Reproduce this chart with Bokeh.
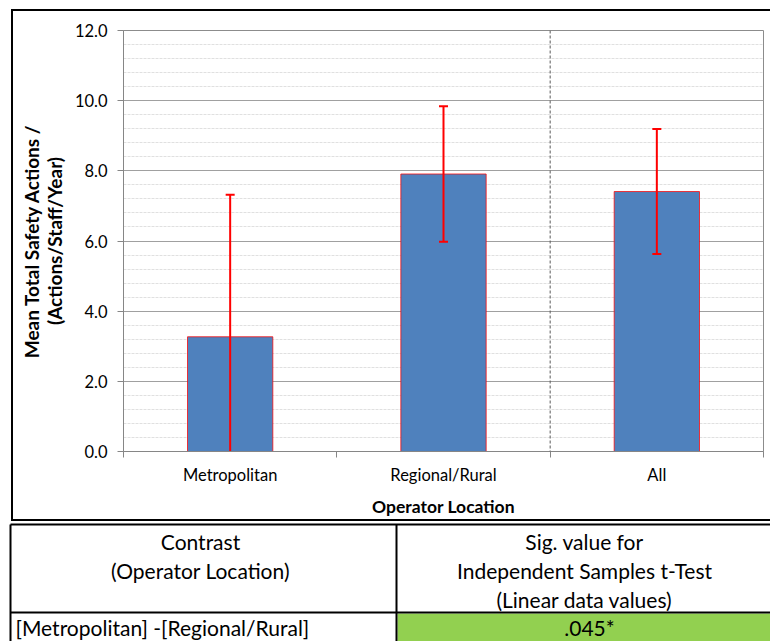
import numpy as np
from bokeh.plotting import figure
from bokeh.models import (Range1d, FixedTicker, SingleIntervalTicker, Span,
                          PrintfTickFormatter)
from bokeh.layouts import column
from bokeh.embed import file_html
from bokeh.resources import INLINE
from bokeh.core.properties import value

# ---------------- data ----------------
categories = ["Metropolitan", "Regional/Rural", "All"]
means = [3.27, 7.91, 7.41]
errors = [4.05, 1.93, 1.78]

y_label = "Mean Total Safety Actions /\n(Actions/Staff/Year)"
x_label = "Operator Location"

header_col1 = ["Contrast", "(Operator Location)"]
header_col2 = ["Sig. value for", "Independent Samples t-Test", "(Linear data values)"]
row_contrast = ["[Metropolitan] -[Regional/Rural]"]
row_sig = [".045*"]

FONT = "Lato"

xs = np.arange(len(categories)) + 0.5
upper = np.array(means) + np.array(errors)
lower = np.array(means) - np.array(errors)

# chart box drawn behind the (transparent) canvas with CSS lines
box_css = {
    "background-image": "linear-gradient(#000,#000), linear-gradient(#000,#000), linear-gradient(#000,#000)",
    "background-size": "2px 512px, 800px 2px, 800px 2px",
    "background-position": "11px 9px, 11px 9px, 11px 519px",
    "background-repeat": "no-repeat",
}

# ---------------- chart ----------------
p = figure(width=770, height=522, x_range=Range1d(0, len(categories)),
           y_range=Range1d(0, 12), output_backend="svg", toolbar_location=None,
           min_border_left=123, min_border_right=7, min_border_top=30,
           min_border_bottom=71, styles=box_css)
p.background_fill_color = "white"
p.border_fill_color = None
p.outline_line_color = "#8c8c8c"
p.outline_line_width = 1

# y axis
p.yaxis.ticker = SingleIntervalTicker(interval=2, num_minor_ticks=5)
p.yaxis.formatter = PrintfTickFormatter(format="%.1f")
p.yaxis.axis_line_color = "#868686"
p.yaxis.major_tick_line_color = "#868686"
p.yaxis.major_tick_out = 6
p.yaxis.major_tick_in = 0
p.yaxis.minor_tick_out = 0
p.yaxis.minor_tick_in = 0
p.yaxis.major_label_text_font = FONT
p.yaxis.major_label_text_font_size = "16.5px"
p.yaxis.major_label_text_color = "black"
p.yaxis.major_label_standoff = 10
p.yaxis.axis_label = y_label
p.yaxis.axis_label_text_font = FONT
p.yaxis.axis_label_text_font_size = "19px"
p.yaxis.axis_label_text_font_style = "bold"
p.yaxis.axis_label_text_color = "black"
p.yaxis.axis_label_text_line_height = 1.0
p.yaxis.axis_label_standoff = 6

# x axis
p.xaxis.ticker = FixedTicker(ticks=list(xs), minor_ticks=list(range(len(categories) + 1)))
p.xaxis.major_label_overrides = {float(x): c for x, c in zip(xs, categories)}
p.xaxis.axis_line_color = "#868686"
p.xaxis.major_tick_out = 0
p.xaxis.major_tick_in = 0
p.xaxis.minor_tick_out = 6
p.xaxis.minor_tick_in = 0
p.xaxis.minor_tick_line_color = "#868686"
p.xaxis.major_label_text_font = FONT
p.xaxis.major_label_text_font_size = "16.5px"
p.xaxis.major_label_text_color = "black"
p.xaxis.major_label_standoff = 7
p.xaxis.axis_label = x_label
p.xaxis.axis_label_text_font = FONT
p.xaxis.axis_label_text_font_size = "17.5px"
p.xaxis.axis_label_text_font_style = "bold"
p.xaxis.axis_label_text_color = "black"
p.xaxis.axis_label_standoff = 8

# grids
p.xgrid.visible = False
p.ygrid.ticker = SingleIntervalTicker(interval=2, num_minor_ticks=5)
p.ygrid.grid_line_color = "#a0a0a0"
p.ygrid.grid_line_width = 1
p.ygrid.minor_grid_line_color = "#e0e0e0"
p.ygrid.minor_grid_line_dash = "3 1"

# separator before "All"
p.add_layout(Span(location=len(categories) - 1, dimension="height",
                  line_color="#595959", line_dash="3 2", line_width=1))

# bars
p.vbar(x=xs, top=means, width=0.4, fill_color="#4F81BD",
       line_color="#FF0000", line_alpha=0.75, line_width=1)

# error bars
p.segment(x0=xs, y0=lower, x1=xs, y1=upper, line_color="#FF0000", line_width=2)
p.dash(x=xs, y=upper, size=9, line_color="#FF0000", line_width=2)
p.dash(x=xs, y=lower, size=9, line_color="#FF0000", line_width=2)

# ---------------- table ----------------
t = figure(width=770, height=119, x_range=Range1d(0, 770), y_range=Range1d(641, 522),
           output_backend="svg", toolbar_location=None, min_border=0,
           x_axis_type=None, y_axis_type=None)
t.grid.visible = False
t.outline_line_color = None
t.background_fill_color = "white"
t.border_fill_color = "white"

t.quad(left=[397], right=[772], top=[613], bottom=[645], fill_color="#92D050", line_color=None)
t.segment(x0=[10, 10, 396, 10], y0=[524, 524, 524, 612],
          x1=[772, 10, 396, 772], y1=[524, 645, 645, 612],
          line_color="black", line_width=2)

TS = "21px"
t.text(x=[200] * len(header_col1), y=[541, 570], text=header_col1,
       text_align="center", text_baseline="middle", text_font=value(FONT),
       text_font_size=TS, text_color="black")
t.text(x=[584] * len(header_col2), y=[541, 570, 599], text=header_col2,
       text_align="center", text_baseline="middle", text_font=value(FONT),
       text_font_size=TS, text_color="black")
t.text(x=[15], y=[627], text=row_contrast, text_align="left", text_baseline="middle",
       text_font=value(FONT), text_font_size=TS, text_color="black")
t.text(x=[589], y=[627], text=row_sig, text_align="center", text_baseline="middle",
       text_font=value(FONT), text_font_size=TS, text_color="black")

layout = column(p, column(t))
open("out.html", "w").write(file_html(layout, INLINE))
